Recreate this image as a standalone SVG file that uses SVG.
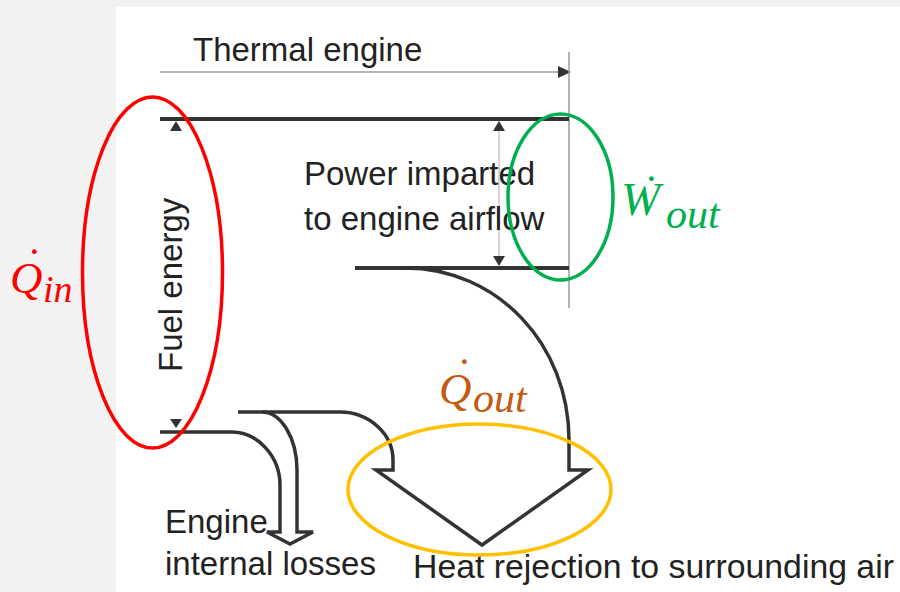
<svg xmlns="http://www.w3.org/2000/svg" width="900" height="592" viewBox="0 0 900 592">
<style>
.lbl{font-family:"Liberation Sans",Arial,sans-serif;font-size:33px;fill:#222}
.math{font-family:"Liberation Serif","DejaVu Serif",serif;font-style:italic;font-size:45px}
.sub{font-size:42px}
.thick{fill:none;stroke:#333;stroke-width:3.5;stroke-linejoin:miter}
.thin{fill:none;stroke:#9a9a9a;stroke-width:1.5}
.head{fill:#333}
.ring{fill:none;stroke-width:3.5}
</style>
<rect x="0" y="0" width="900" height="592" fill="#f2f2f2"/>
<rect x="116" y="7" width="784" height="585" fill="#ffffff"/>

<g id="connectors">
  <line class="thin" x1="160" y1="72" x2="560" y2="72"/>
  <polygon class="head" points="571,72 558,66 558,78"/>
  <line class="thin" x1="569" y1="52" x2="569" y2="308"/>
  <line class="thick" x1="160" y1="119" x2="569" y2="119" style="stroke-width:4"/>
  <polygon class="head" points="176,121 170,131 182,131"/>
  <line class="thick" x1="355" y1="268" x2="569" y2="268" style="stroke-width:4"/>
  <line class="thin" x1="499" y1="131" x2="499" y2="256" style="stroke:#c8c8c8"/>
  <polygon class="head" points="499,121 493,131 505,131"/>
  <polygon class="head" points="499,266 493,256 505,256"/>
  <polygon class="head" points="176,428 170,419 182,419"/>
  <path class="thick" d="M 238 412 L 340 412 C 369 412 393 434 393 460 L 393 470 L 376 470 L 482 545 L 588 470 L 569 470 L 569 440 C 569 345 498 268 405 268"/>
  <path class="thick" d="M 160 432 L 232 432 C 257 432 280 456 280 485 L 280 532 L 267 532 L 290 544 L 313 532 L 297 532 L 297 470 C 297 438 281 412 262 412"/>
</g>

<g id="thermal-engine"><text class="lbl" x="193" y="61">Thermal engine</text></g>
<g id="fuel-energy"><text class="lbl" transform="translate(182,372) rotate(-90)" x="0" y="0">Fuel energy</text></g>
<g id="power-imparted">
  <text class="lbl" x="304" y="185">Power imparted</text>
  <text class="lbl" x="304" y="230">to engine airflow</text>
</g>
<g id="engine-losses">
  <text class="lbl" x="165" y="533">Engine</text>
  <text class="lbl" x="165" y="575">internal losses</text>
</g>
<g id="heat-rejection"><text class="lbl" x="413" y="578" style="font-size:33.8px">Heat rejection to surrounding air</text></g>

<g id="q-in">
  <ellipse class="ring" cx="152.5" cy="272.5" rx="70" ry="175.5" stroke="#ff0000"/>
  <text class="math" fill="#ff0000" x="10" y="293">Q<tspan class="sub" style="font-size:38px" x="43" y="302">in</tspan><tspan x="24" y="279">˙</tspan></text>
</g>
<g id="w-out">
  <ellipse class="ring" cx="560.5" cy="197" rx="52.5" ry="83" stroke="#00b050"/>
  <text class="math" fill="#00b050" x="621" y="215" style="font-size:47px">W<tspan class="sub" x="666" y="228">out</tspan><tspan style="font-size:45px" x="641" y="206">˙</tspan></text>
</g>
<g id="q-out">
  <ellipse class="ring" cx="479.5" cy="489.5" rx="131.5" ry="65.5" stroke="#ffc000"/>
  <text class="math" fill="#c55a11" x="439" y="404">Q<tspan class="sub" x="473" y="412">out</tspan><tspan x="454" y="389">˙</tspan></text>
</g>
</svg>
